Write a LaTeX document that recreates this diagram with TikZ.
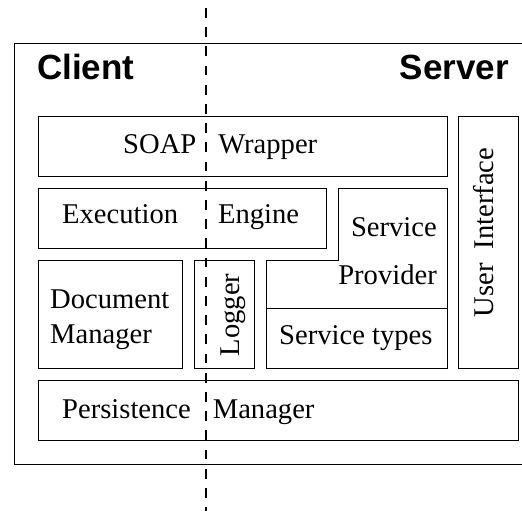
\documentclass[tikz,border=0pt]{standalone}
\usepackage{fontspec}
\setmainfont{Liberation Serif}
\newfontfamily\labelsans{Liberation Sans}
\begin{document}
\begin{tikzpicture}[x=1pt,y=1pt,
  box/.style={draw=black,line width=0.8pt,inner sep=0pt,anchor=north west},
  boxline/.style={draw=black,line width=0.8pt,line join=miter},
  lbl/.style={inner sep=0pt,font=\fontsize{28.6}{34}\selectfont},
  head/.style={inner sep=0pt,font=\labelsans\bfseries\fontsize{35}{40}\selectfont},
  divider/.style={draw=black,line width=2pt,dash pattern=on 9.7pt off 9.5pt}]
\useasboundingbox (0,0) rectangle (522,-511);
\fill[white] (0,0) rectangle (522,-511);
% outer frame (open on the right)
\draw[line width=1pt] (522,-44) -- (14,-44) -- (14,-464) -- (522,-464);
% headings
\node[head,anchor=base west] (client) at (37,-80) {Client};
\node[head,anchor=base east] (server) at (509,-80) {Server};
% boxes
\node[box,minimum width=409pt,minimum height=60pt] (soap) at (38,-116) {};
\node[box,minimum width=288pt,minimum height=60pt] (exec) at (38,-188) {};
\node[box,minimum width=60pt,minimum height=252pt] (ui) at (458,-116) {};
\node[box,minimum width=144pt,minimum height=108pt] (doc) at (38,-260) {};
\node[box,minimum width=60pt,minimum height=108pt] (logger) at (194,-260) {};
\node[box,minimum width=181pt,minimum height=60pt] (stypes) at (266,-308) {};
\node[box,minimum width=480pt,minimum height=60pt] (persist) at (38,-380) {};
\draw[boxline] (338,-188) -- (447,-188) -- (447,-308) -- (266,-308) -- (266,-260) -- (338,-260) -- cycle;
% labels
\node[lbl,anchor=base west] (soapt) at (123,-153) {SOAP\hspace{22pt}Wrapper};
\node[lbl,anchor=base west] (exect) at (62,-223) {Execution\hspace{40pt}Engine};
\node[lbl,anchor=base west] (perst) at (62,-418) {Persistence\hspace{22pt}Manager};
\node[lbl,anchor=base west] (stt) at (279,-344) {Service types};
\node[lbl,align=right,anchor=north east,font=\fontsize{28.6}{48}\selectfont] (spt) at (437,-217.5) {Service\\Provider};
\node[lbl,align=left,anchor=north west,font=\fontsize{28.6}{35}\selectfont] (doct) at (50,-290) {Document\\Manager};
\node[lbl,rotate=90] (logt) at (233,-315) {Logger};
\node[lbl,rotate=90] (uit) at (484,-232.5) {User\hspace{14pt}Interface};
% client/server divider
\coordinate (dtop) at (206,-8);
\coordinate (dbot) at (206,-511);
\draw[divider] (dtop) -- (dbot);
\end{tikzpicture}
\end{document}
